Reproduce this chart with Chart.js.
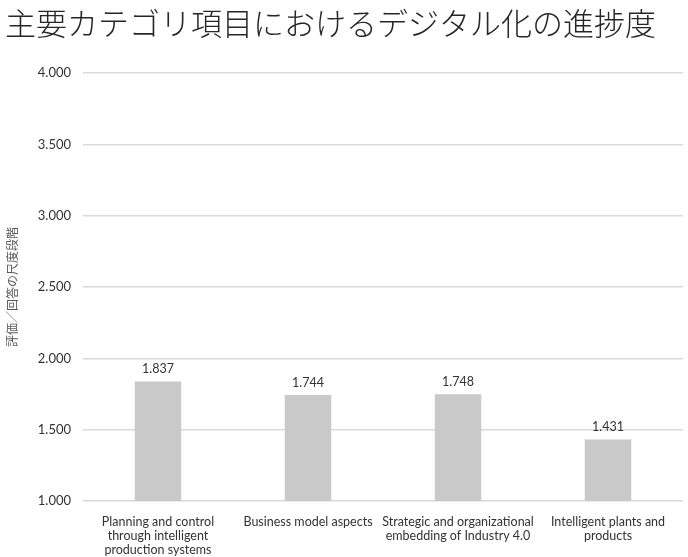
<!DOCTYPE html>
<html>
<head>
<meta charset="utf-8">
<script src="https://cdn.jsdelivr.net/npm/chart.js@4/dist/chart.umd.min.js"></script>
<style>
  html, body { margin: 0; padding: 0; background: #fff; }
  #wrap { width: 688px; height: 557px; position: relative; }
</style>
</head>
<body>
<div id="wrap"><canvas id="progress-chart"></canvas></div>
<script>
// data
const categories = [
    ['Planning and control', 'through intelligent', 'production systems'],
    ['Business model aspects'],
    ['Strategic and organizational', 'embedding of Industry 4.0'],
    ['Intelligent plants and', 'products']
];
const scores = [1.837, 1.744, 1.748, 1.431];
const titleText = '主要カテゴリ項目におけるデジタル化の進捗度';
const yTitle = '評価／回答の尺度段階';

// simple value labels above each bar
const valueLabels = {
    id: 'valueLabels',
    afterDatasetsDraw(chart) {
        const ctx = chart.ctx;
        const meta = chart.getDatasetMeta(0);
        ctx.save();
        ctx.font = '12.5px Lato';
        ctx.fillStyle = '#333';
        ctx.textAlign = 'center';
        ctx.textBaseline = 'bottom';
        meta.data.forEach((bar, i) => {
            ctx.fillText(scores[i].toFixed(3), bar.x, bar.y - 6);
        });
        ctx.restore();
    }
};

const chartCanvas = document.getElementById('progress-chart');
new Chart(chartCanvas, {
    type: 'bar',
    data: {
        labels: categories,
        datasets: [{
            data: scores,
            backgroundColor: '#c9c9c9',
            borderWidth: 0,
            barPercentage: 0.62,
            categoryPercentage: 0.5
        }]
    },
    options: {
        responsive: true,
        maintainAspectRatio: false,
        animation: false,
        layout: { padding: { left: 5, right: 5, top: 0, bottom: 0 } },
        plugins: {
            legend: { display: false },
            tooltip: { enabled: false },
            title: {
                display: true,
                text: titleText,
                align: 'start',
                color: '#262626',
                font: { family: "'Noto Sans CJK JP'", size: 31, weight: 300, lineHeight: 1.1 },
                padding: { top: 6, bottom: 33 }
            }
        },
        scales: {
            x: {
                grid: { display: false },
                border: { display: false },
                ticks: {
                    color: '#333',
                    font: { family: 'Lato', size: 12.5, lineHeight: 1.12 },
                    maxRotation: 0,
                    autoSkip: false,
                    padding: 6
                },
                afterFit(scale) { scale.height = 56; }
            },
            y: {
                min: 1,
                max: 4,
                ticks: {
                    stepSize: 0.5,
                    color: '#333',
                    font: { family: 'Lato', size: 13 },
                    padding: 12,
                    callback: v => v.toFixed(3)
                },
                grid: { color: '#d9d9d9', lineWidth: 1.5, drawTicks: false },
                border: { display: false },
                title: {
                    display: true,
                    text: yTitle,
                    color: '#595959',
                    font: { family: "'Noto Sans CJK JP'", size: 12 },
                    padding: 0
                },
                afterFit(scale) { scale.width = 78; }
            }
        }
    },
    plugins: [valueLabels]
});
</script>
</body>
</html>
